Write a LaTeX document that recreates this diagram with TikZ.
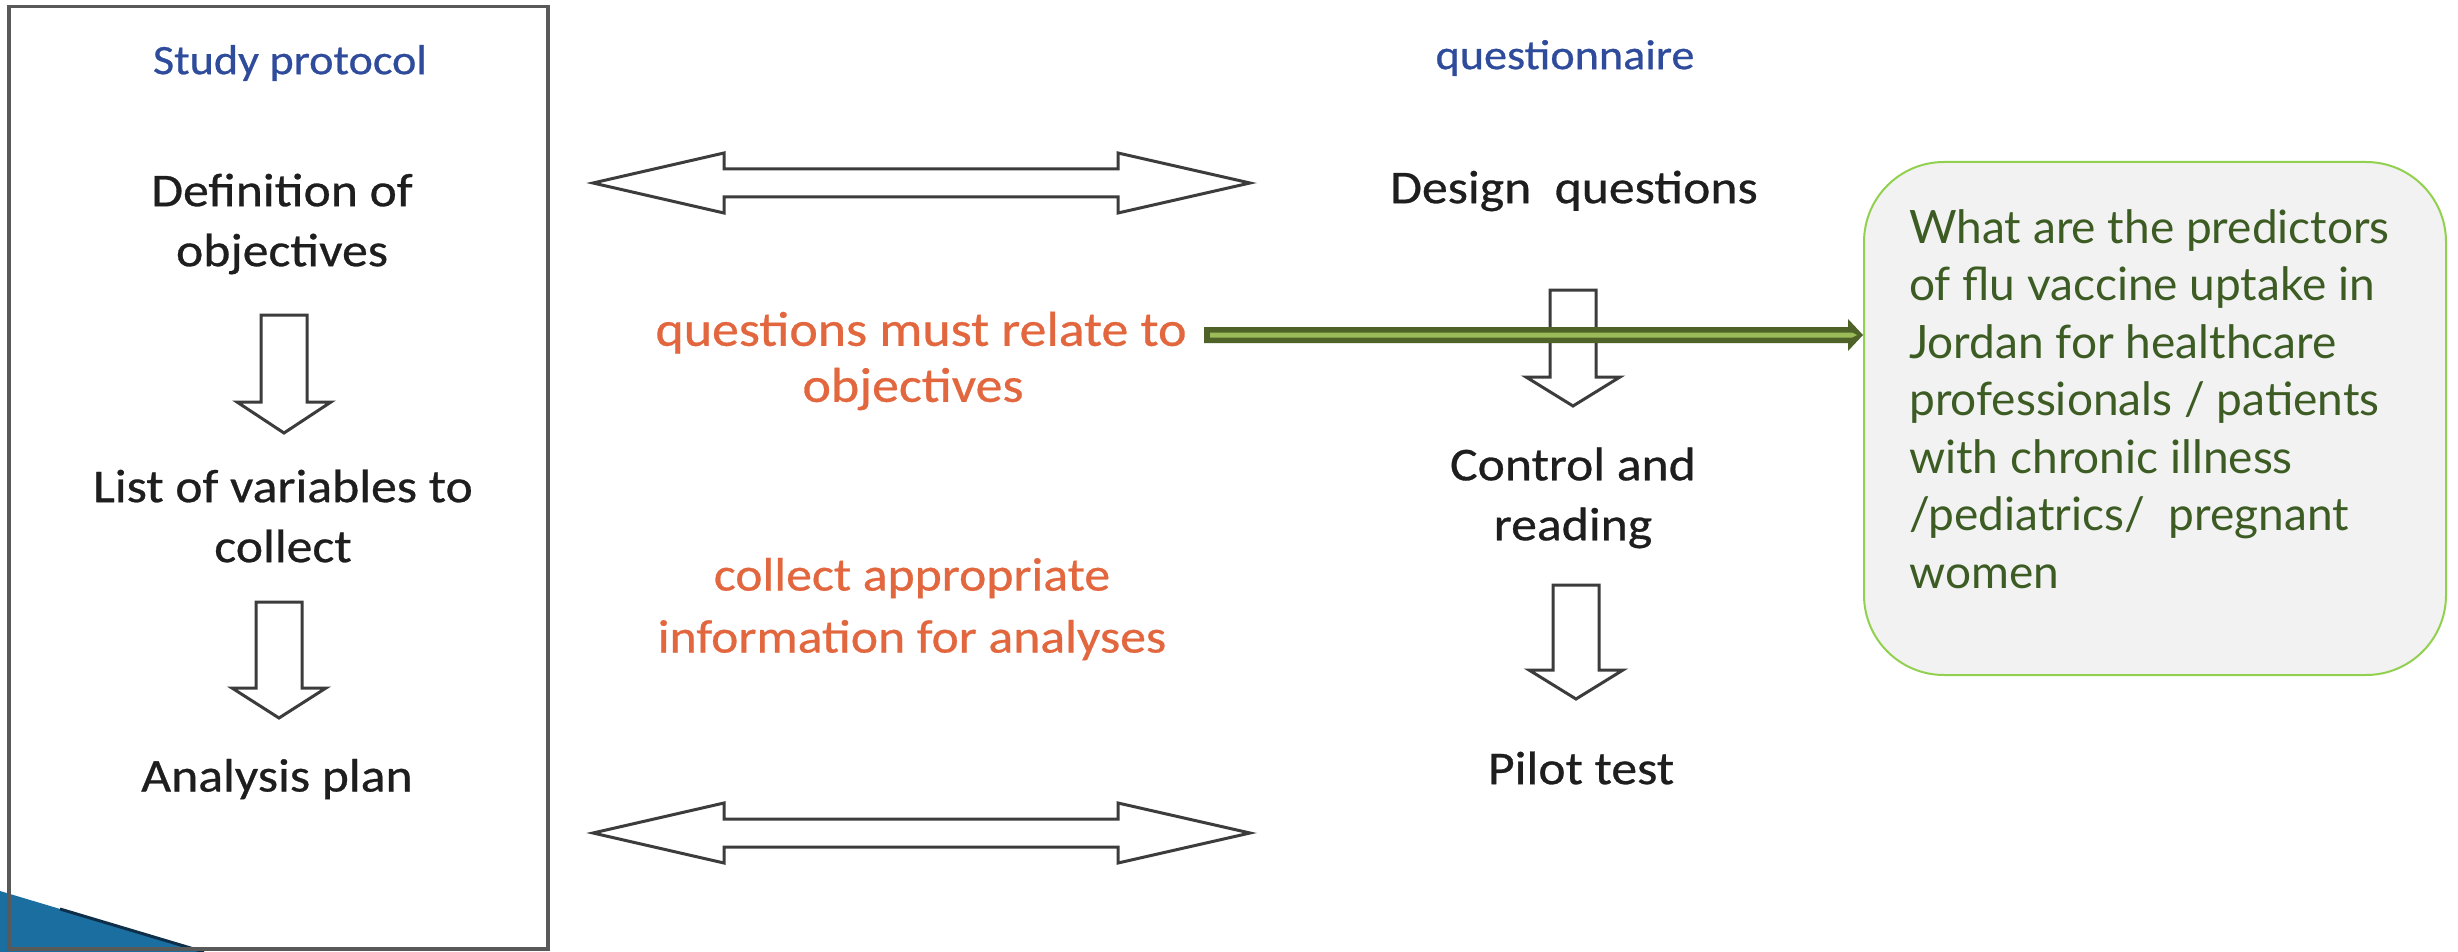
\documentclass[tikz,border=0pt]{standalone}
\usepackage{fontspec}
\setmainfont{Carlito}[FakeStretch=1.1, FakeBold=0.6]
\newfontfamily\boxfont{Lato}
\usetikzlibrary{calc}

\definecolor{protoblue}{HTML}{2F4B9B}
\definecolor{notered}{HTML}{E2673E}
\definecolor{inkgrey}{HTML}{1E1E1E}
\definecolor{framegrey}{HTML}{595959}
\definecolor{arrowgrey}{HTML}{3C3C3C}
\definecolor{olivedark}{HTML}{4F6228}
\definecolor{olivelight}{HTML}{9BBB59}
\definecolor{boxedge}{HTML}{92D050}
\definecolor{boxfill}{HTML}{F2F2F2}
\definecolor{boxtext}{HTML}{3C5C24}
\definecolor{wedgeblue}{HTML}{1A6EA0}
\definecolor{wedgedark}{HTML}{0E2F4A}

% hollow arrow pointing down: centre x, top y, head base y, tip y
\newcommand{\DownBlock}[4]{%
  \draw[blockarrow] (#1-23,#2) -- (#1+23,#2) -- (#1+23,#3) -- (#1+47,#3)
    -- (#1,#4) -- (#1-47,#3) -- (#1-23,#3) -- cycle;}
% hollow two-headed arrow: centre y
\newcommand{\TwoWayBlock}[1]{%
  \draw[blockarrow] (593,#1) -- (724,#1-30) -- (724,#1-14) -- (1118,#1-14)
    -- (1118,#1-30) -- (1250,#1) -- (1118,#1+30) -- (1118,#1+14)
    -- (724,#1+14) -- (724,#1+30) -- cycle;}

\tikzset{
  heading/.style={text=protoblue, font=\fontsize{42}{50}\selectfont, inner sep=0pt},
  stagetext/.style={text=inkgrey, font=\fontsize{47}{60}\selectfont, align=center, inner sep=0pt},
  note/.style={text=notered, align=center, inner sep=0pt},
  blockarrow/.style={draw=arrowgrey, line width=3pt, fill=white, line join=miter},
  qbox/.style={draw=boxedge, line width=2pt, fill=boxfill, rounded corners=80pt,
    minimum width=582pt, minimum height=513pt, inner sep=0pt},
  qtext/.style={text=boxtext, font=\boxfont\fontsize{46}{57.5}\selectfont,
    align=left, inner sep=0pt},
}

\begin{document}
\begin{tikzpicture}[x=1pt, y=-1pt]
\useasboundingbox (0,0) rectangle (2458,952);
\fill[white] (0,0) rectangle (2458,952);

% corner wedge
\fill[wedgeblue] (0,891) -- (204,952) -- (0,952) -- cycle;
\draw[wedgedark, line width=3pt] (60,909) -- (204,952);

% study protocol frame
\node[draw=framegrey, line width=3.5pt, minimum width=539pt, minimum height=942pt,
  anchor=north west, inner sep=0pt] (protobox) at (7,5) {};

% left column
\node[heading] (proto) at (290,63) {Study protocol};
\node[stagetext] (defobj) at (282,224) {Definition of\\objectives};
\node[stagetext] (vars) at (283,516) {List of variables to\\collect};
\node[stagetext] (plan) at (277,779) {Analysis plan};
\DownBlock{284}{315}{402}{433}
\DownBlock{279}{602}{688}{718}

% right column
\node[heading] (quest) at (1565,58) {questionnaire};
\node[stagetext] (design) at (1574,191) {Design\ \ questions};
\node[stagetext] (control) at (1573,498) {Control and\\reading};
\node[stagetext] (pilot) at (1581,768) {Pilot test};
\DownBlock{1573}{290}{377}{406}
\DownBlock{1576}{585}{670}{699}

% links between the two columns
\TwoWayBlock{183}
\TwoWayBlock{833}
\node[note, font=\fontsize{49}{56}\selectfont] (relate) at (921,361)
  {questions must relate to\\objectives\hspace*{16pt}};
\node[note, font=\fontsize{47}{62}\selectfont] (collect) at (912,609)
  {collect appropriate\\information for analyses};

% research question
\node[qbox, anchor=north west] (qbox) at (1863,161) {};
\node[qtext, anchor=north west] (qtext) at (1909,209) {What are the predictors\\
of flu vaccine uptake in\\
Jordan for healthcare\\
professionals / patients\\
with chronic illness\\
/pediatrics/\ \ pregnant\\
women};

% olive arrow into the question box
\coordinate (gstart) at (1204,335);
\coordinate (gtip) at (qbox.west |- gstart);
\fill[olivedark] ($(gstart)+(0,-8)$) -- ($(gtip)+(-15,-8)$) -- ($(gtip)+(-15,-16)$)
  -- (gtip) -- ($(gtip)+(-15,16)$) -- ($(gtip)+(-15,8)$) -- ($(gstart)+(0,8)$) -- cycle;
\fill[olivelight] ($(gstart)+(6,-2.5)$) -- ($(gtip)+(-11,-2.5)$) -- ($(gtip)+(-6,0)$)
  -- ($(gtip)+(-11,2.5)$) -- ($(gstart)+(6,2.5)$) -- cycle;
\end{tikzpicture}
\end{document}
